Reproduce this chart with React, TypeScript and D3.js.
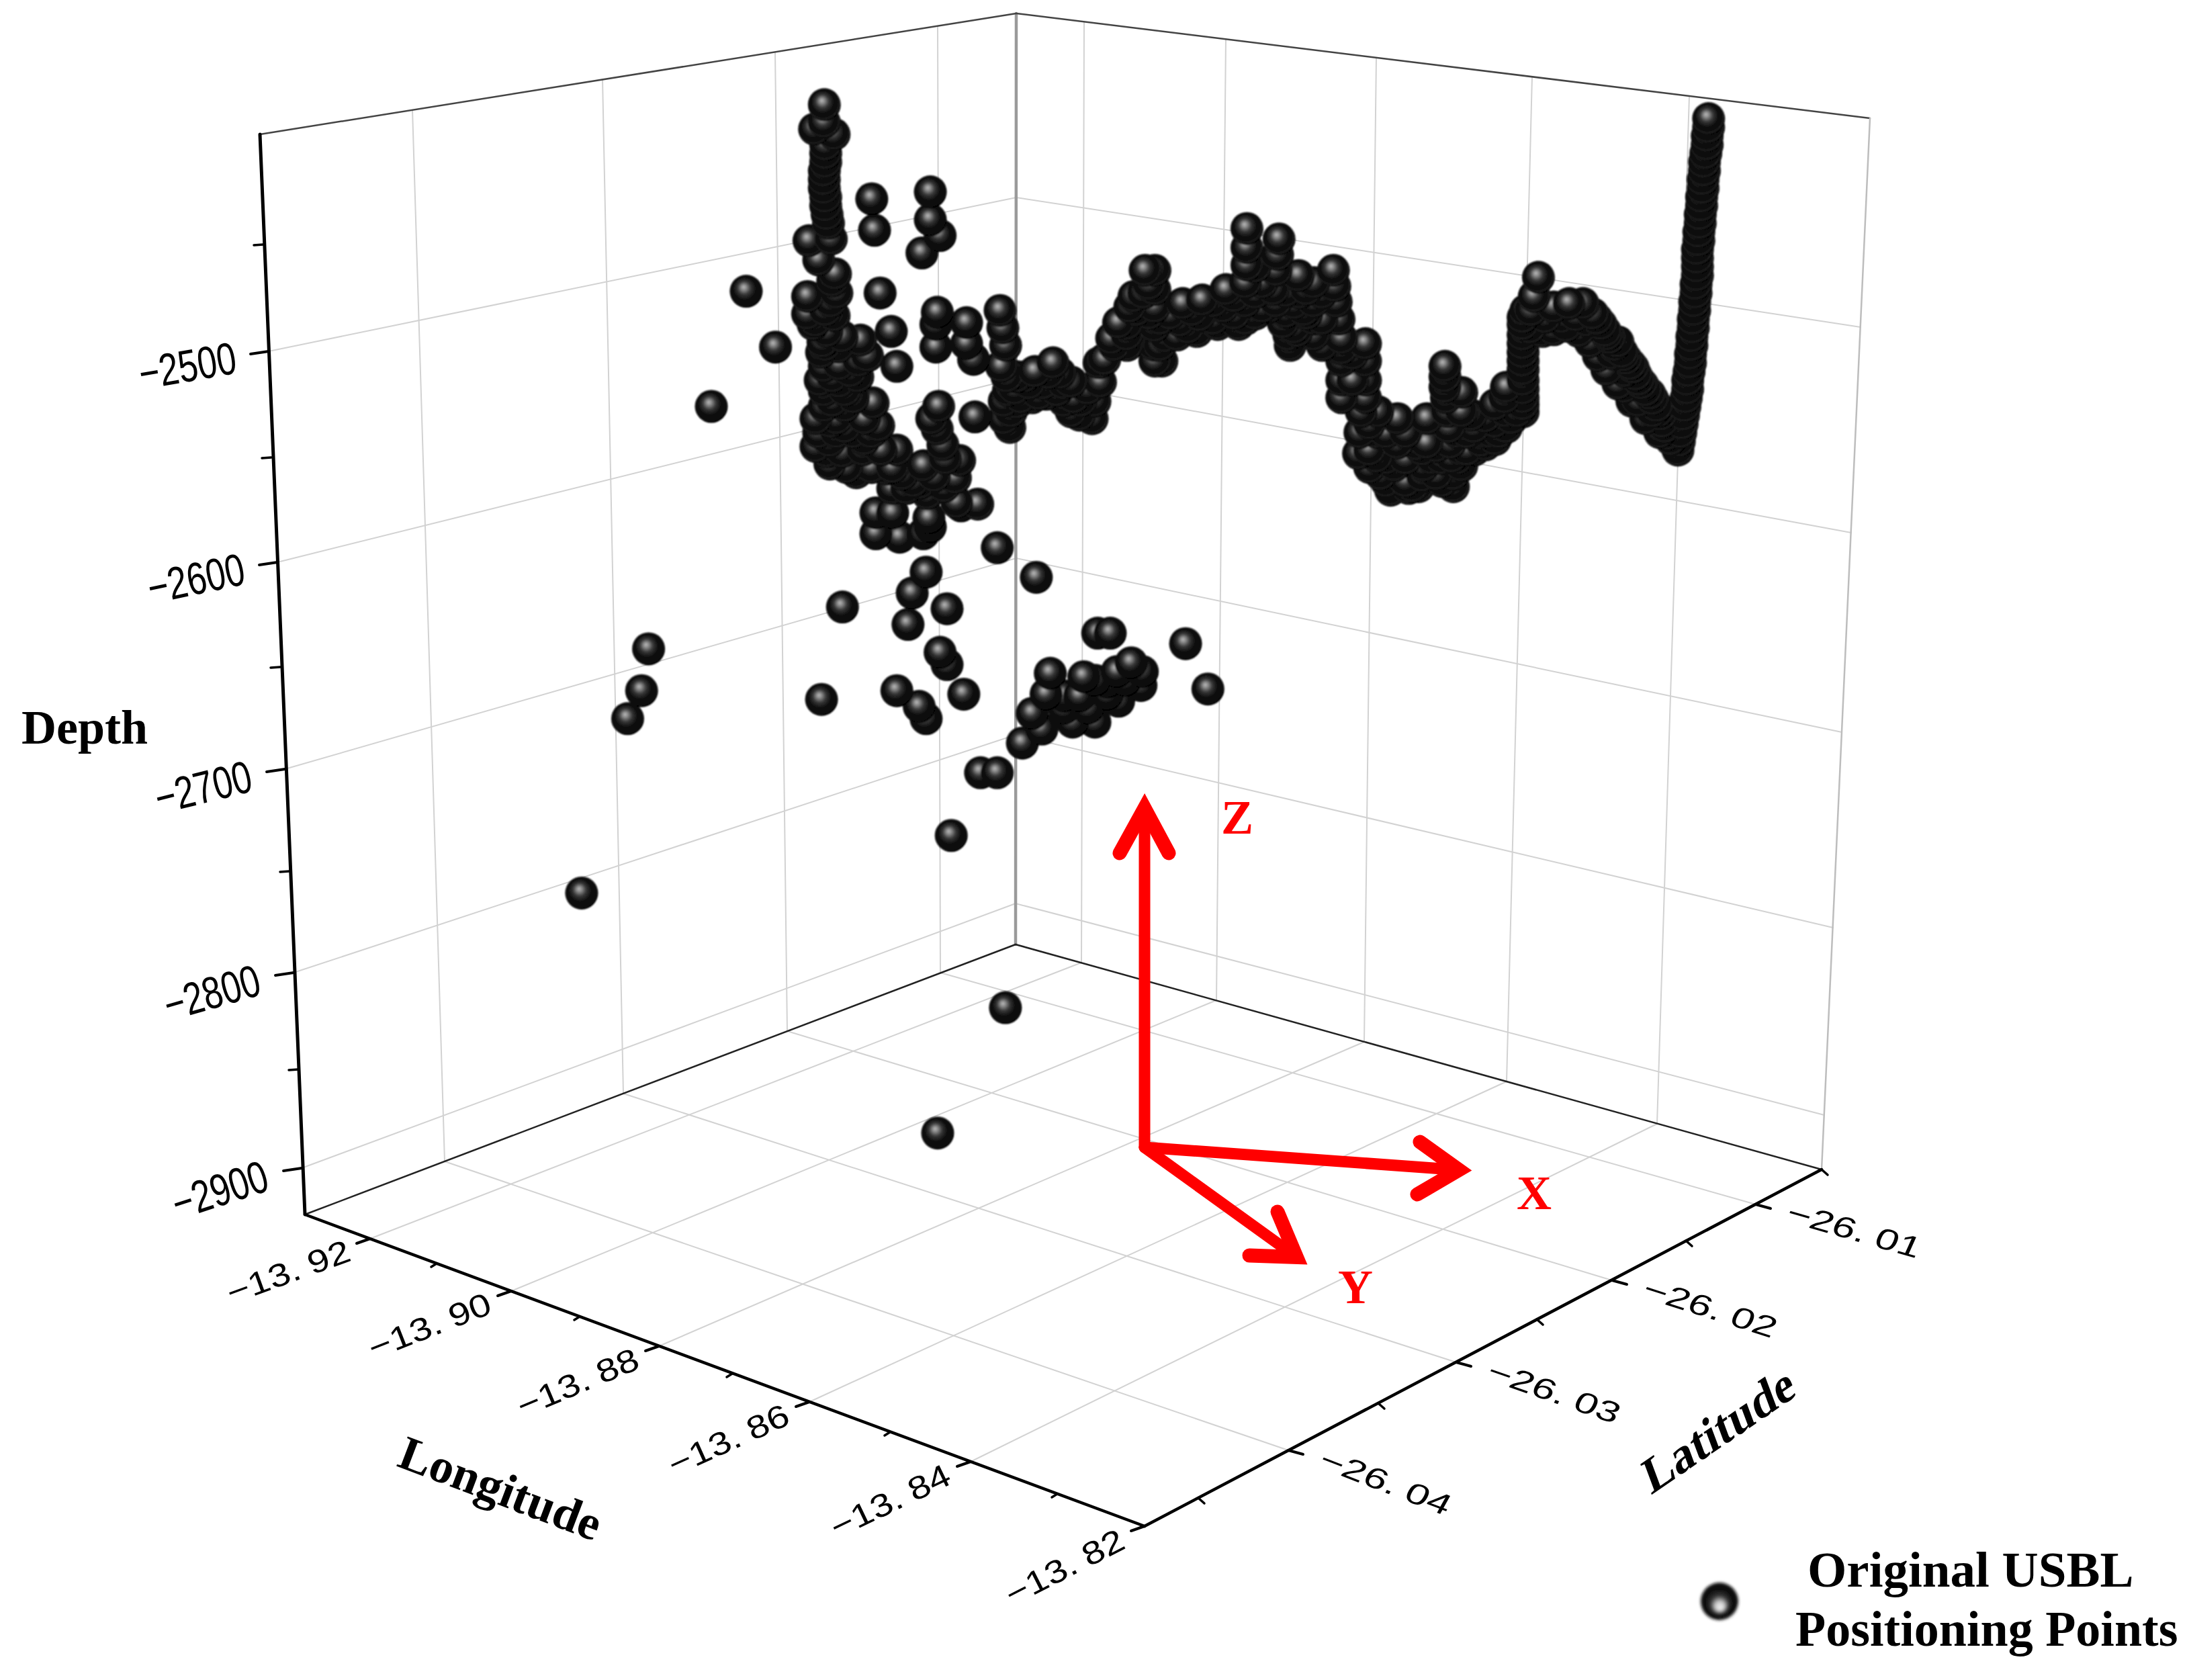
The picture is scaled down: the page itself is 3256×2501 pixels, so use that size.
import React, { useEffect, useRef } from "react";
import * as d3 from "d3";

type Pt = [number, number]; // [longitude on the view plane, depth]

// axis ticks
const depthMajor = [-2500, -2600, -2700, -2800, -2900];
const depthMinor = [-2450, -2550, -2650, -2750, -2850];
const lonMajor = [-13.92, -13.9, -13.88, -13.86, -13.84, -13.82];
const lonMinor = [-13.91, -13.89, -13.87, -13.85, -13.83];
const latMajor = [-26.04, -26.03, -26.02, -26.01];
const latMinor = [-26.045, -26.035, -26.025, -26.015, -26.005];

// USBL fixes, east to west
const riser: Pt[] = [
  [-13.8275, -2460], [-13.8275, -2465], [-13.8276, -2470], [-13.8276, -2475], [-13.8277, -2480],
  [-13.8278, -2485], [-13.8278, -2490], [-13.8279, -2495], [-13.8279, -2500], [-13.828, -2505],
  [-13.828, -2510], [-13.8281, -2515], [-13.8281, -2520], [-13.8282, -2525], [-13.8282, -2530],
  [-13.8283, -2535], [-13.8283, -2540], [-13.8283, -2545], [-13.8283, -2550], [-13.8284, -2555],
  [-13.8284, -2560], [-13.8285, -2565], [-13.8285, -2570], [-13.8286, -2575], [-13.8286, -2580],
  [-13.8287, -2585], [-13.8287, -2590], [-13.8288, -2595], [-13.8288, -2600], [-13.8289, -2605],
  [-13.829, -2610], [-13.829, -2615], [-13.8291, -2620], [-13.8292, -2625], [-13.8293, -2630],
  [-13.8294, -2635], [-13.8295, -2640], [-13.8296, -2645], [-13.8297, -2650],
];
const ridgeUpper: Pt[] = [
  [-13.8302, -2644], [-13.8306, -2637], [-13.8309, -2630], [-13.8312, -2625], [-13.8317, -2618],
  [-13.8322, -2613], [-13.8325, -2610], [-13.8329, -2603], [-13.8334, -2598], [-13.8337, -2594],
  [-13.8342, -2590], [-13.8346, -2586], [-13.8349, -2582], [-13.8352, -2578], [-13.8355, -2575],
  [-13.8358, -2572], [-13.8365, -2566], [-13.8375, -2566], [-13.8386, -2568],
];
const ridgeLower: Pt[] = [
  [-13.831, -2640], [-13.832, -2632], [-13.833, -2622], [-13.834, -2612], [-13.8348, -2604],
  [-13.8354, -2596], [-13.836, -2588], [-13.8368, -2582], [-13.8377, -2579], [-13.8386, -2581],
  [-13.8394, -2582], [-13.8304, -2641], [-13.8308, -2634], [-13.8311, -2628], [-13.8315, -2621],
  [-13.832, -2616], [-13.8323, -2612], [-13.8327, -2607], [-13.8331, -2601], [-13.8335, -2605],
  [-13.8336, -2596], [-13.834, -2588], [-13.8344, -2595], [-13.8348, -2584], [-13.8315, -2628],
  [-13.8325, -2622], [-13.8335, -2614], [-13.8362, -2576], [-13.837, -2573], [-13.838, -2574],
  [-13.8392, -2574],
];
const wall: Pt[] = [
  [-13.8397, -2551], [-13.84, -2562], [-13.8406, -2570], [-13.8408, -2574], [-13.8408, -2578],
  [-13.8408, -2584], [-13.8408, -2589], [-13.8408, -2594], [-13.8408, -2599], [-13.8408, -2604],
  [-13.8408, -2610], [-13.8408, -2615], [-13.8408, -2620], [-13.8408, -2624], [-13.8408, -2628],
  [-13.842, -2614], [-13.8421, -2620], [-13.842, -2628], [-13.842, -2637], [-13.8428, -2624],
  [-13.8428, -2634], [-13.8428, -2644], [-13.8435, -2631], [-13.8435, -2640], [-13.8435, -2647],
  [-13.8443, -2637], [-13.8443, -2650], [-13.8438, -2645], [-13.8431, -2640], [-13.8425, -2640],
  [-13.8416, -2632], [-13.8412, -2628], [-13.8445, -2630], [-13.8402, -2570], [-13.8403, -2580],
];
const trough: Pt[] = [
  [-13.8464, -2602], [-13.8464, -2608], [-13.8464, -2614], [-13.8463, -2620], [-13.8462, -2628],
  [-13.8461, -2637], [-13.846, -2646], [-13.8459, -2654], [-13.8458, -2664], [-13.8458, -2671],
  [-13.8452, -2617], [-13.8452, -2628], [-13.8452, -2640], [-13.8452, -2650], [-13.8452, -2659],
  [-13.8477, -2632], [-13.8477, -2646], [-13.8479, -2659], [-13.8483, -2671], [-13.8484, -2647],
  [-13.8487, -2671], [-13.847, -2648], [-13.847, -2664], [-13.8498, -2632], [-13.8498, -2646],
  [-13.85, -2659], [-13.8503, -2673], [-13.8512, -2628], [-13.8513, -2640], [-13.8513, -2654],
  [-13.851, -2664], [-13.8521, -2589], [-13.8521, -2599], [-13.8521, -2610], [-13.8521, -2620],
  [-13.8524, -2628], [-13.8525, -2640], [-13.8526, -2652], [-13.8518, -2635], [-13.8518, -2650],
  [-13.8518, -2660], [-13.8506, -2640], [-13.8506, -2655], [-13.8506, -2668], [-13.8492, -2640],
  [-13.8492, -2655], [-13.8492, -2668], [-13.849, -2672], [-13.848, -2650], [-13.848, -2665],
  [-13.8473, -2655], [-13.8466, -2655], [-13.8466, -2668], [-13.8455, -2640], [-13.8455, -2655],
  [-13.8448, -2640], [-13.8448, -2650],
];
const plateau: Pt[] = [
  [-13.8538, -2620], [-13.8538, -2610], [-13.8538, -2599], [-13.8538, -2592], [-13.8538, -2586],
  [-13.854, -2575], [-13.8542, -2565], [-13.8543, -2556], [-13.8544, -2547], [-13.8558, -2554],
  [-13.8558, -2565], [-13.8558, -2575], [-13.8558, -2584], [-13.8569, -2550], [-13.8568, -2560],
  [-13.8565, -2570], [-13.857, -2582], [-13.8578, -2559], [-13.8578, -2571], [-13.8576, -2584],
  [-13.8575, -2590], [-13.8583, -2529], [-13.8584, -2538], [-13.8585, -2547], [-13.8587, -2558],
  [-13.859, -2568], [-13.8595, -2554], [-13.8595, -2568], [-13.8606, -2523], [-13.8606, -2534],
  [-13.8606, -2544], [-13.8607, -2554], [-13.8607, -2565], [-13.8607, -2575], [-13.8621, -2558],
  [-13.8623, -2568], [-13.8627, -2578], [-13.8638, -2564], [-13.864, -2573], [-13.8642, -2582],
  [-13.8652, -2566], [-13.8654, -2576], [-13.8656, -2584], [-13.8661, -2572], [-13.8664, -2585],
  [-13.8667, -2599], [-13.8672, -2547], [-13.8672, -2558], [-13.8672, -2568], [-13.8672, -2579],
  [-13.8672, -2590], [-13.8672, -2599], [-13.8679, -2547], [-13.8687, -2562], [-13.869, -2568],
  [-13.8692, -2578], [-13.8692, -2590], [-13.86, -2545], [-13.86, -2560], [-13.86, -2572],
  [-13.8615, -2562], [-13.8615, -2572], [-13.863, -2565], [-13.863, -2575], [-13.8645, -2570],
  [-13.8648, -2580], [-13.8612, -2578], [-13.8563, -2558], [-13.8563, -2572], [-13.8552, -2560],
  [-13.8552, -2575], [-13.8552, -2590], [-13.853, -2595], [-13.853, -2610], [-13.8572, -2566],
  [-13.8572, -2580], [-13.8585, -2565], [-13.858, -2577], [-13.8668, -2575], [-13.8668, -2590],
  [-13.8676, -2555], [-13.8676, -2572], [-13.868, -2560], [-13.8685, -2570],
];
const westRidge: Pt[] = [
  [-13.8698, -2577], [-13.8701, -2590], [-13.8703, -2586], [-13.8708, -2598], [-13.8711, -2611],
  [-13.8715, -2622], [-13.8717, -2632], [-13.8726, -2630], [-13.873, -2620], [-13.8732, -2628],
  [-13.8732, -2611], [-13.874, -2606], [-13.8742, -2616], [-13.8745, -2600], [-13.8752, -2612],
  [-13.875, -2618], [-13.8758, -2605], [-13.876, -2620], [-13.8765, -2608], [-13.8771, -2608],
  [-13.8771, -2623], [-13.8775, -2628], [-13.8776, -2637], [-13.8777, -2616], [-13.8782, -2602],
  [-13.8779, -2590], [-13.8781, -2580], [-13.8783, -2570], [-13.8712, -2600], [-13.872, -2615],
  [-13.8725, -2622], [-13.8737, -2612], [-13.8737, -2622], [-13.8748, -2606], [-13.8755, -2618],
  [-13.8762, -2612], [-13.8768, -2620], [-13.8772, -2615], [-13.8778, -2608], [-13.878, -2622],
  [-13.878, -2632], [-13.8692, -2584],
];
const westColumn: Pt[] = [
  [-13.8909, -2452], [-13.8909, -2462], [-13.8916, -2466], [-13.8902, -2469], [-13.8908, -2475],
  [-13.8908, -2480], [-13.8908, -2485], [-13.8909, -2490], [-13.8909, -2495], [-13.8909, -2500],
  [-13.8908, -2505], [-13.8908, -2510], [-13.8907, -2515], [-13.8906, -2520], [-13.8904, -2529],
  [-13.892, -2530], [-13.8913, -2541], [-13.8901, -2549], [-13.8903, -2553], [-13.8921, -2562],
  [-13.8904, -2565], [-13.89, -2560],
];
const westCluster: Pt[] = [
  [-13.8921, -2572], [-13.8917, -2578], [-13.8915, -2576], [-13.8902, -2573], [-13.8907, -2582],
  [-13.8896, -2585], [-13.8883, -2587], [-13.8899, -2591], [-13.8911, -2594], [-13.891, -2588],
  [-13.8884, -2599], [-13.8898, -2601], [-13.8909, -2602], [-13.8878, -2596], [-13.8898, -2611],
  [-13.8885, -2608], [-13.8909, -2616], [-13.8894, -2616], [-13.8874, -2623], [-13.8894, -2625],
  [-13.8909, -2625], [-13.8904, -2634], [-13.8894, -2637], [-13.887, -2636], [-13.8913, -2640],
  [-13.89, -2632], [-13.888, -2632], [-13.888, -2644], [-13.8915, -2632], [-13.8915, -2648],
  [-13.89, -2640], [-13.8907, -2651], [-13.8896, -2651], [-13.8881, -2650], [-13.8857, -2650],
  [-13.8886, -2663], [-13.8875, -2660], [-13.8864, -2661], [-13.8853, -2664], [-13.886, -2672],
  [-13.885, -2672], [-13.8838, -2659], [-13.884, -2669], [-13.8827, -2625], [-13.8828, -2638],
  [-13.8824, -2647], [-13.8812, -2656], [-13.8815, -2666], [-13.8823, -2671], [-13.8814, -2680],
  [-13.8799, -2681], [-13.8912, -2610], [-13.8903, -2608], [-13.889, -2605], [-13.8888, -2620],
  [-13.8903, -2622], [-13.8888, -2640], [-13.8905, -2645], [-13.8905, -2658], [-13.8893, -2660],
  [-13.8875, -2640], [-13.8868, -2650], [-13.886, -2660], [-13.8845, -2668], [-13.8832, -2632],
  [-13.8822, -2655], [-13.883, -2665], [-13.8835, -2675], [-13.8908, -2570], [-13.8908, -2590],
];
const scattered: Pt[] = [
  [-13.8875, -2506], [-13.8873, -2524], [-13.8833, -2502], [-13.8833, -2518], [-13.8826, -2527],
  [-13.8839, -2537], [-13.8869, -2560], [-13.8965, -2559], [-13.8944, -2591], [-13.899, -2625],
  [-13.8861, -2582], [-13.8857, -2602], [-13.8828, -2571], [-13.8829, -2578], [-13.8829, -2591],
  [-13.8807, -2577], [-13.8807, -2589], [-13.8802, -2598], [-13.8801, -2631], [-13.8872, -2686],
  [-13.886, -2686], [-13.8834, -2689], [-13.8872, -2698], [-13.8855, -2700], [-13.8838, -2698],
  [-13.8833, -2694], [-13.8811, -2682], [-13.8785, -2706], [-13.8836, -2720], [-13.8846, -2732],
  [-13.8757, -2723], [-13.8896, -2740], [-13.8821, -2741], [-13.8849, -2750], [-13.9035, -2764],
  [-13.8826, -2766], [-13.8821, -2773], [-13.904, -2788], [-13.905, -2804], [-13.8911, -2793],
  [-13.8857, -2788], [-13.8841, -2797], [-13.8836, -2804], [-13.8809, -2790], [-13.865, -2761],
  [-13.8634, -2787], [-13.8797, -2835], [-13.8785, -2835], [-13.8818, -2871], [-13.9083, -2904],
];
const eastCluster: Pt[] = [
  [-13.8713, -2755], [-13.8704, -2755], [-13.8747, -2778], [-13.875, -2790], [-13.8737, -2791],
  [-13.8726, -2791], [-13.8723, -2780], [-13.8715, -2782], [-13.8699, -2777], [-13.8689, -2772],
  [-13.8681, -2777], [-13.8682, -2785], [-13.8698, -2794], [-13.8715, -2806], [-13.8731, -2806],
  [-13.876, -2801], [-13.8753, -2810], [-13.8767, -2818], [-13.8706, -2783], [-13.8693, -2782],
  [-13.8706, -2790], [-13.8737, -2798], [-13.872, -2798],
];
// the two fixes resting on the seabed
const seabedLon = [-13.9166, -13.8966];
const seabedLat = [-26.0116, -26.0249];

const denseSeries = [riser, ridgeUpper, ridgeLower, wall, trough, plateau, westRidge, westColumn, westCluster];
const sparseSeries = [scattered, eastCluster];

// frame geometry: one piecewise scale per edge, to follow the perspective
const edge = (domain: number[], xs: number[], ys: number[]) => {
  const fx = d3.scaleLinear().domain(domain).range(xs);
  const fy = d3.scaleLinear().domain(domain).range(ys);
  return (v: number): [number, number] => [fx(v), fy(v)];
};
const depthLeft = edge(
  [-2400, -2450, -2500, -2550, -2600, -2650, -2700, -2750, -2800, -2850, -2900, -2925],
  [387, 392, 400, 404, 413, 417, 424, 431, 437, 444, 449, 454],
  [200, 364, 523, 681, 837, 993, 1145, 1297, 1448, 1592, 1739, 1808],
);
const depthBack = edge([-2400, -2500, -2600, -2700, -2800, -2900, -2925], [1513, 1513, 1513, 1513, 1512, 1512, 1512], [20, 294, 563, 831, 1094, 1345, 1406]);
const depthRight = edge([-2400, -2500, -2600, -2700, -2800, -2900, -2925], [2784, 2770, 2756, 2742, 2729, 2716, 2712], [176, 487, 793, 1090, 1381, 1660, 1741]);
const lonFront = edge(
  [-13.9295, -13.92, -13.91, -13.9, -13.89, -13.88, -13.87, -13.86, -13.85, -13.84, -13.83, -13.82],
  [454, 551, 650, 761, 863, 981, 1090, 1205, 1325, 1445, 1574, 1704],
  [1808, 1844, 1881, 1922, 1960, 2004, 2045, 2087, 2132, 2176, 2224, 2272],
);
const lonBack = edge([-13.9295, -13.92, -13.9, -13.88, -13.86, -13.84, -13.82], [1512, 1610, 1811, 2031, 2243, 2467, 2712], [1406, 1433, 1489, 1551, 1610, 1673, 1741]);
const lonTop = edge([-13.9295, -13.92, -13.9, -13.88, -13.86, -13.84, -13.82], [1513, 1614, 1825, 2049, 2281, 2515, 2784], [20, 32, 58, 86, 114, 143, 176]);
const latFront = edge(
  [-26.048, -26.045, -26.04, -26.035, -26.03, -26.025, -26.02, -26.015, -26.01, -26.005],
  [1704, 1784, 1918, 2052, 2168, 2288, 2400, 2510, 2614, 2712],
  [2272, 2230, 2159, 2089, 2028, 1964, 1906, 1847, 1793, 1741],
);
const latBack = edge([-26.048, -26.04, -26.03, -26.02, -26.01, -26.005], [454, 662, 928, 1172, 1400, 1512], [1808, 1729, 1628, 1535, 1448, 1406]);
const latTop = edge([-26.048, -26.04, -26.03, -26.02, -26.01, -26.005], [387, 614, 897, 1154, 1396, 1513], [200, 164, 118, 77, 39, 20]);

const viewX = d3.scaleLinear().domain([-13.95, -13.7932]).range([0, 3256]);
const viewY = d3.scaleLinear().domain([-2392, -3355.2]).range([0, 2501]);

// where a longitude grid line crosses a latitude grid line on the seabed
const seabed = (lon: number, lat: number): [number, number] => {
  const [ax, ay] = lonFront(lon);
  const [bx, by] = lonBack(lon);
  const [cx, cy] = latFront(lat);
  const [dx, dy] = latBack(lat);
  const den = (ax - bx) * (cy - dy) - (ay - by) * (cx - dx);
  const t = ((ax - cx) * (cy - dy) - (ay - cy) * (cx - dx)) / den;
  return [ax + t * (bx - ax), ay + t * (by - ay)];
};

const SANS = "'Liberation Sans', Arial, sans-serif";
const SERIF = "'Liberation Serif', 'Times New Roman', serif";
const SPHERE_R = 24.5;

const App: React.FC = () => {
  const ref = useRef<SVGSVGElement>(null);

  useEffect(() => {
    if (!ref.current) return;
    const svg = d3.select(ref.current);
    svg.selectAll("*").remove();

    const defs = svg.append("defs");
    const gradient = (id: string, fx: number, fy: number, stops: [number, string][]) => {
      const g = defs.append("radialGradient").attr("id", id).attr("cx", 0.47).attr("cy", 0.45).attr("r", 0.56).attr("fx", fx).attr("fy", fy);
      stops.forEach(([o, c]) => g.append("stop").attr("offset", o).attr("stop-color", c));
    };
    gradient("sphere", 0.42, 0.37, [[0, "#b8b8b8"], [0.14, "#8c8c8c"], [0.36, "#363636"], [0.6, "#101010"], [0.9, "#080808"], [1, "#000"]]);
    gradient("sphereBand", 0.42, 0.37, [[0, "#b8b8b8"], [0.14, "#8c8c8c"], [0.36, "#363636"], [0.6, "#101010"], [0.8, "#090909"], [0.87, "#242424"], [0.93, "#0a0a0a"], [1, "#000"]]);
    gradient("legendSphere", 0.52, 0.68, [[0, "#f4f4f4"], [0.2, "#cfcfcf"], [0.42, "#333"], [0.7, "#050505"], [0.9, "#111"], [1, "#555"]]);
    defs.append("filter").attr("id", "soft").append("feGaussianBlur").attr("stdDeviation", 0.9);
    defs.append("filter").attr("id", "softer").append("feGaussianBlur").attr("stdDeviation", 2.2);

    const line = (a: number[], b: number[], color: string, width: number) =>
      svg
        .append("line")
        .attr("x1", a[0])
        .attr("y1", a[1])
        .attr("x2", b[0])
        .attr("y2", b[1])
        .attr("stroke", color)
        .attr("stroke-width", width)
        .attr("stroke-linecap", "round");

    // grid on the two walls and the seabed
    const GRID = "#d2d2d2";
    depthMajor.forEach((d) => {
      line(depthLeft(d), depthBack(d), GRID, 2);
      line(depthBack(d), depthRight(d), GRID, 2);
    });
    lonMajor.slice(0, -1).forEach((v) => {
      line(lonFront(v), lonBack(v), GRID, 2);
      line(lonBack(v), lonTop(v), GRID, 2);
    });
    latMajor.forEach((v) => {
      line(latFront(v), latBack(v), GRID, 2);
      line(latBack(v), latTop(v), GRID, 2);
    });

    // box edges
    const L = depthLeft(-2925);
    const TL = depthLeft(-2400);
    const B = depthBack(-2925);
    const TB = depthBack(-2400);
    const R = depthRight(-2925);
    const TR = depthRight(-2400);
    const F = lonFront(-13.82);
    line(B, TB, "#9a9a9a", 4.5);
    line(TL, TB, "#444", 2.5);
    line(TB, TR, "#444", 2.5);
    line(TR, R, "#bdbdbd", 2.5);
    line(L, B, "#222", 2.5);
    line(B, R, "#222", 2.5);
    line(TL, L, "#000", 5);
    line(L, F, "#000", 4.5);
    line(F, R, "#000", 4.5);

    // axis ticks
    depthMajor.forEach((d) => {
      const [x, y] = depthLeft(d);
      line([x, y], [x - 27, y + 4], "#000", 4);
    });
    depthMinor.forEach((d) => {
      const [x, y] = depthLeft(d);
      line([x, y], [x - 14, y + 1], "#000", 3.5);
    });
    lonMajor.forEach((v) => {
      const [x, y] = lonFront(v);
      line([x, y], [x - 20, y + 7], "#000", 4);
    });
    lonMinor.forEach((v) => {
      const [x, y] = lonFront(v);
      line([x, y], [x - 8, y + 5], "#000", 3.5);
    });
    latMajor.forEach((v) => {
      const [x, y] = latFront(v);
      line([x, y], [x + 22, y + 6], "#000", 4);
    });
    latMinor.forEach((v) => {
      const [x, y] = latFront(v);
      line([x, y], [x + 9, y + 8], "#000", 3.5);
    });

    // tick labels, sheared to lie on the box faces
    const depthAngle = d3.scaleLinear().domain([-2500, -2900]).range([-10, -18]);
    depthMajor.forEach((d) => {
      const [x, y] = depthLeft(d);
      svg
        .append("text")
        .attr("transform", `translate(${x - 45},${y + 32}) rotate(${depthAngle(d)}) scale(1,1.3)`)
        .attr("text-anchor", "end")
        .attr("font-family", SANS)
        .attr("font-size", 52)
        .text(`\u2212${Math.abs(d)}`);
    });
    const dotted = (sel: d3.Selection<SVGTextElement, unknown, null, undefined>, v: number, gap: number) => {
      const [whole, frac] = Math.abs(v).toFixed(2).split(".");
      sel.append("tspan").text(`\u2212${whole}.`);
      sel.append("tspan").attr("dx", gap).text(frac);
    };
    const lonAngle = d3.scaleLinear().domain([-13.92, -13.82]).range([-20, -27]);
    lonMajor.forEach((v) => {
      const [x, y] = lonFront(v);
      const t = svg
        .append("text")
        .attr("transform", `translate(${x - 26},${y + 32}) rotate(${lonAngle(v)}) scale(1.2,1)`)
        .attr("text-anchor", "end")
        .attr("font-family", SANS)
        .attr("font-size", 48);
      dotted(t, v, 12);
    });
    const latAngle = d3.scaleLinear().domain([-26.04, -26.01]).range([21, 16]);
    latMajor.forEach((v) => {
      const [x, y] = latFront(v);
      const t = svg
        .append("text")
        .attr("transform", `translate(${x + 42},${y + 24}) rotate(${latAngle(v)}) skewX(-8) scale(1.28,0.92)`)
        .attr("font-family", SANS)
        .attr("font-size", 48);
      dotted(t, v, 12);
    });

    // axis titles
    const title = (s: string, transform: string, size = 72, color = "#000", anchor = "start") =>
      svg
        .append("text")
        .attr("transform", transform)
        .attr("text-anchor", anchor)
        .attr("font-family", SERIF)
        .attr("font-weight", "bold")
        .attr("font-size", size)
        .attr("fill", color)
        .text(s);
    title("Depth", "translate(32,1107)");
    title("Longitude", "translate(589,2182) rotate(20.8)");
    title("Latitude", "translate(2458,2226) rotate(-34.4) skewX(-14)");

    // the fixes, shallow ones drawn last as in the reference
    const dots = svg.append("g").attr("filter", "url(#soft)");
    const placed: { x: number; y: number; depth: number; fill: string }[] = [];
    denseSeries.forEach((s) =>
      s.forEach(([lon, depth]) => placed.push({ x: viewX(lon), y: viewY(depth), depth, fill: "url(#sphereBand)" })),
    );
    sparseSeries.forEach((s) =>
      s.forEach(([lon, depth]) => placed.push({ x: viewX(lon), y: viewY(depth), depth, fill: "url(#sphere)" })),
    );
    seabedLon.forEach((lon, i) => {
      const [x, y] = seabed(lon, seabedLat[i]);
      placed.push({ x, y, depth: -2925, fill: "url(#sphere)" });
    });
    placed.sort((a, b) => d3.ascending(a.depth, b.depth));
    dots
      .selectAll("circle")
      .data(placed)
      .join("circle")
      .attr("cx", (d) => d.x)
      .attr("cy", (d) => d.y)
      .attr("r", SPHERE_R)
      .attr("fill", (d) => d.fill);

    // red reference frame
    const arrow = (o: number[], tip: number[], e1: number[], e2: number[]) => {
      const len = Math.hypot(tip[0] - o[0], tip[1] - o[1]);
      const ux = (tip[0] - o[0]) / len;
      const uy = (tip[1] - o[1]) / len;
      const apex = [tip[0] - ux * 18, tip[1] - uy * 18];
      line(o, apex, "#ff0000", 17);
      svg
        .append("path")
        .attr("d", d3.line()([e1 as [number, number], apex as [number, number], e2 as [number, number]]))
        .attr("fill", "none")
        .attr("stroke", "#ff0000")
        .attr("stroke-width", 21)
        .attr("stroke-linecap", "round")
        .attr("stroke-linejoin", "miter")
        .attr("stroke-miterlimit", 8);
    };
    const origin = [1704, 1708];
    arrow(origin, [1704, 1185], [1667, 1270], [1740, 1270]);
    arrow(origin, [2190, 1743], [2114, 1700], [2110, 1778]);
    arrow(origin, [1945, 1882], [1902, 1804], [1860, 1869]);
    title("Z", "translate(1842,1241)", 72, "#ff0000", "middle");
    title("X", "translate(2284,1800)", 72, "#ff0000", "middle");
    title("Y", "translate(2018,1940)", 72, "#ff0000", "middle");

    // legend
    svg
      .append("circle")
      .attr("cx", 2560)
      .attr("cy", 2384)
      .attr("r", 28)
      .attr("fill", "url(#legendSphere)")
      .attr("filter", "url(#softer)");
    title("Original USBL", "translate(2691,2362)", 75);
    title("Positioning Points", "translate(2673,2450)", 74);
  }, []);

  return (
    <svg
      ref={ref}
      width={3256}
      height={2501}
      viewBox="0 0 3256 2501"
      style={{ position: "absolute", left: 0, top: 0, background: "#fff", display: "block" }}
    />
  );
};

export default App;
